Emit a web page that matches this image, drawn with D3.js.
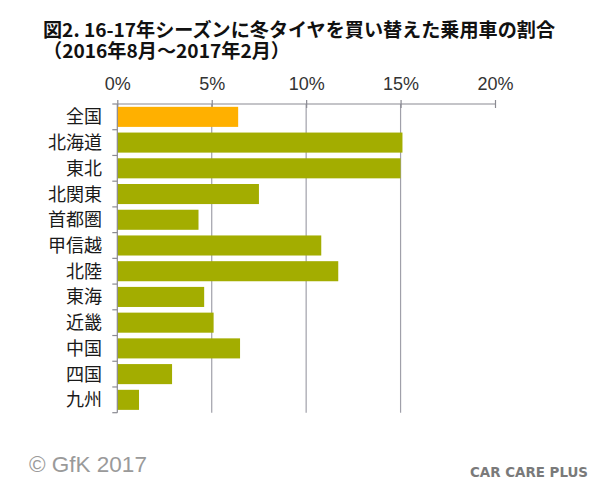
<!DOCTYPE html>
<html><head><meta charset="utf-8">
<script src="https://cdn.jsdelivr.net/npm/d3@7"></script>
<style>body{margin:0;background:#fff}svg{display:block}</style>
</head><body>
<script>
const categories = ["全国","北海道","東北","北関東","首都圏","甲信越","北陸","東海","近畿","中国","四国","九州"];
const values = [6.4, 15.1, 15.0, 7.5, 4.3, 10.8, 11.7, 4.6, 5.1, 6.5, 2.9, 1.15];
const tickValues = [0, 5, 10, 15, 20];
const tickLabels = ["0%","5%","10%","15%","20%"];
const titleLines = ["図2. 16-17年シーズンに冬タイヤを買い替えた乗用車の割合","（2016年8月～2017年2月）"];

const W = 600, H = 494;
const svg = d3.select("body").append("svg").attr("width", W).attr("height", H);
const x = d3.scaleLinear().domain([0, 20]).range([117.3, 495]);
const y = d3.scaleBand().domain(categories).range([104, 412.7]).paddingInner(0.22).paddingOuter(0.11);

const jp = "'Noto Sans CJK JP', 'Noto Sans', sans-serif";

// title
svg.append("text").attr("x", 43).attr("y", 36.5).attr("font-family", jp).attr("font-weight", "bold")
  .attr("font-size", 19).attr("fill", "#111").attr("textLength", 512).attr("lengthAdjust", "spacingAndGlyphs").text(titleLines[0]);
svg.append("text").attr("x", 43).attr("y", 58).attr("font-family", jp).attr("font-weight", "bold")
  .attr("font-size", 19).attr("fill", "#111").attr("textLength", 247).attr("lengthAdjust", "spacingAndGlyphs").text(titleLines[1]);

// gridlines
svg.append("g").selectAll("line").data(tickValues.filter(d => d > 0 && d < 20)).join("line")
  .attr("x1", d => x(d)).attr("x2", d => x(d)).attr("y1", 104).attr("y2", 412.7)
  .attr("stroke", "#a0a0aa").attr("stroke-width", 1.2);

// top axis
const gx = svg.append("g").attr("transform", "translate(0,104)")
  .call(d3.axisTop(x).tickValues(tickValues).tickFormat((d, i) => tickLabels[i]).tickSize(4).tickPadding(10));
gx.select(".domain").attr("stroke", "#8a8a92").attr("stroke-width", 1.2).attr("d", `M${x(0)},0H${x(20)}`);
gx.selectAll(".tick line").attr("stroke", "#8a8a92").attr("stroke-width", 1.2).attr("y2", 4).attr("y1", -4);
gx.selectAll(".tick text").attr("font-family", "'Liberation Sans', Arial, sans-serif").attr("font-size", 18)
  .attr("fill", "#333").attr("dy", "0");

// bars
svg.append("g").selectAll("rect").data(categories).join("rect")
  .attr("x", x(0)).attr("y", d => y(d))
  .attr("width", (d, i) => x(values[i]) - x(0)).attr("height", y.bandwidth())
  .attr("fill", (d, i) => i === 0 ? "#FFB000" : "#A3AD00");

// left axis
const step = (412.7 - 104) / categories.length;
const boundaries = d3.range(categories.length + 1).map(i => 104 + i * step);
const gy = svg.append("g");
gy.append("line").attr("x1", x(0)).attr("x2", x(0)).attr("y1", 104).attr("y2", 412.7)
  .attr("stroke", "#8a8a92").attr("stroke-width", 1.2);
gy.selectAll("line.t").data(boundaries).join("line").attr("class", "t")
  .attr("x1", x(0) - 5).attr("x2", x(0)).attr("y1", d => d).attr("y2", d => d)
  .attr("stroke", "#8a8a92").attr("stroke-width", 1.2);
gy.selectAll("text").data(categories).join("text")
  .attr("x", 102).attr("y", d => y(d) + y.bandwidth() / 2).attr("dy", "0.36em")
  .attr("text-anchor", "end").attr("font-family", jp).attr("font-size", 18).attr("fill", "#1a1a1a")
  .text(d => d);

// footer
svg.append("text").attr("x", 29).attr("y", 472).attr("font-family", "'Liberation Sans', Arial, sans-serif")
  .attr("font-size", 22.5).attr("fill", "#9a9a9a").text("© GfK 2017");
svg.append("text").attr("x", 470).attr("y", 477).attr("font-family", "'DejaVu Sans', sans-serif").attr("font-weight", "bold")
  .attr("font-size", 13.5).attr("fill", "#7a7a7a").attr("textLength", 118).attr("lengthAdjust", "spacingAndGlyphs").text("CAR CARE PLUS");
</script>
</body></html>
